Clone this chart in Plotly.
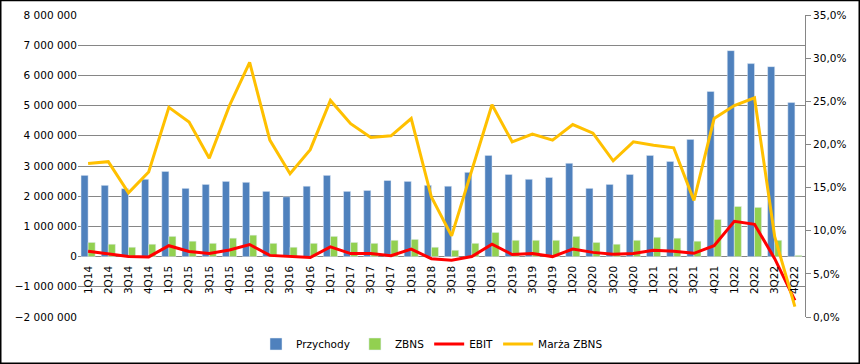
import plotly.graph_objects as go

quarters = ["1Q14","2Q14","3Q14","4Q14","1Q15","2Q15","3Q15","4Q15","1Q16","2Q16","3Q16","4Q16",
            "1Q17","2Q17","3Q17","4Q17","1Q18","2Q18","3Q18","4Q18","1Q19","2Q19","3Q19","4Q19",
            "1Q20","2Q20","3Q20","4Q20","1Q21","2Q21","3Q21","4Q21","1Q22","2Q22","3Q22","4Q22"]

przychody = [2690000,2360000,2250000,2560000,2820000,2260000,2390000,2490000,2460000,2160000,1980000,2330000,
             2690000,2160000,2190000,2520000,2490000,2360000,2330000,2790000,3350000,2720000,2560000,2620000,
             3090000,2260000,2390000,2720000,3350000,3150000,3880000,5470000,6820000,6390000,6290000,5100000]

zbns = [470000,410000,310000,410000,670000,510000,440000,610000,710000,440000,310000,440000,
        670000,470000,440000,540000,570000,310000,210000,440000,800000,540000,540000,540000,
        670000,470000,410000,540000,640000,610000,510000,1230000,1660000,1630000,540000,40000]

ebit = [180000,100000,0,-10000,360000,170000,100000,220000,400000,40000,10000,-30000,
        320000,100000,100000,30000,250000,-70000,-120000,0,410000,70000,100000,0,
        250000,140000,80000,100000,210000,180000,110000,360000,1170000,1070000,-70000,-1450000]

marza = [0.178,0.180,0.144,0.168,0.243,0.226,0.184,0.245,0.295,0.205,0.166,0.194,
         0.251,0.224,0.208,0.210,0.230,0.139,0.094,0.170,0.246,0.203,0.212,0.205,
         0.223,0.213,0.181,0.203,0.199,0.196,0.135,0.230,0.245,0.254,0.093,0.012]

left_ticks = list(range(-2000000, 8000001, 1000000))
right_ticks = [0, 0.05, 0.10, 0.15, 0.20, 0.25, 0.30, 0.35]

FONT = "DejaVu Sans"
FS = 10.5

fig = go.Figure()
fig.add_trace(go.Bar(x=quarters, y=przychody, name="Przychody", marker_color="#4F81BD", yaxis="y"))
fig.add_trace(go.Bar(x=quarters, y=zbns, name="ZBNS", marker_color="#92D050", yaxis="y"))
fig.add_trace(go.Scatter(x=quarters, y=ebit, name="EBIT", mode="lines",
                         line=dict(color="#FF0000", width=3), yaxis="y"))
fig.add_trace(go.Scatter(x=quarters, y=marza, name="Marża ZBNS", mode="lines",
                         line=dict(color="#FFC000", width=3), yaxis="y2"))

L, R, T, B = 78, 55, 15, 47
W, H = 860, 364
pw, ph = W - L - R, H - T - B

fig.update_layout(
    width=W, height=H,
    margin=dict(l=L, r=R, t=T, b=B, autoexpand=False),
    paper_bgcolor="white", plot_bgcolor="white",
    separators=", ",
    font=dict(family=FONT, size=FS, color="#000000"),
    barmode="group", bargap=0.3, bargroupgap=0,
    showlegend=True,
    legend=dict(orientation="h", x=(432 - L) / pw, xanchor="center",
                y=(T + ph - 344) / ph, yanchor="middle",
                font=dict(size=FS), itemwidth=30, bgcolor="rgba(0,0,0,0)"),
    xaxis=dict(type="category", tickangle=-90, anchor="free", position=0.2,
               showgrid=False, showline=False, ticks="outside", ticklen=4,
               tickcolor="rgba(0,0,0,0)", tickfont=dict(size=FS),
               range=[-0.5, len(quarters) - 0.5], automargin=False),
    yaxis=dict(range=[-2000000, 8000000], tickvals=left_ticks, tickformat=",d",
               showgrid=True, gridcolor="#868686", gridwidth=1, zeroline=False,
               showline=False, ticks="", tickfont=dict(size=FS), automargin=False),
    yaxis2=dict(range=[0, 0.35], tickvals=right_ticks, tickformat=".1%",
                overlaying="y", side="right", showgrid=False, zeroline=False,
                showline=True, linecolor="#868686", linewidth=1,
                ticks="outside", ticklen=5, tickcolor="#868686", tickfont=dict(size=FS),
                automargin=False),
)

fig.add_shape(type="rect", xref="paper", yref="paper",
              x0=-L / pw + 0.75 / pw, x1=1 + (R - 0.75) / pw,
              y0=-(B - 0.75) / ph, y1=1 + (T - 0.5) / ph,
              line=dict(color="#000000", width=1.5), fillcolor="rgba(0,0,0,0)", layer="above")

fig.write_html("out.html",
               config={"displayModeBar": False},
               post_script="document.body.style.margin='0';document.body.style.padding='0';document.body.style.overflow='hidden';")
